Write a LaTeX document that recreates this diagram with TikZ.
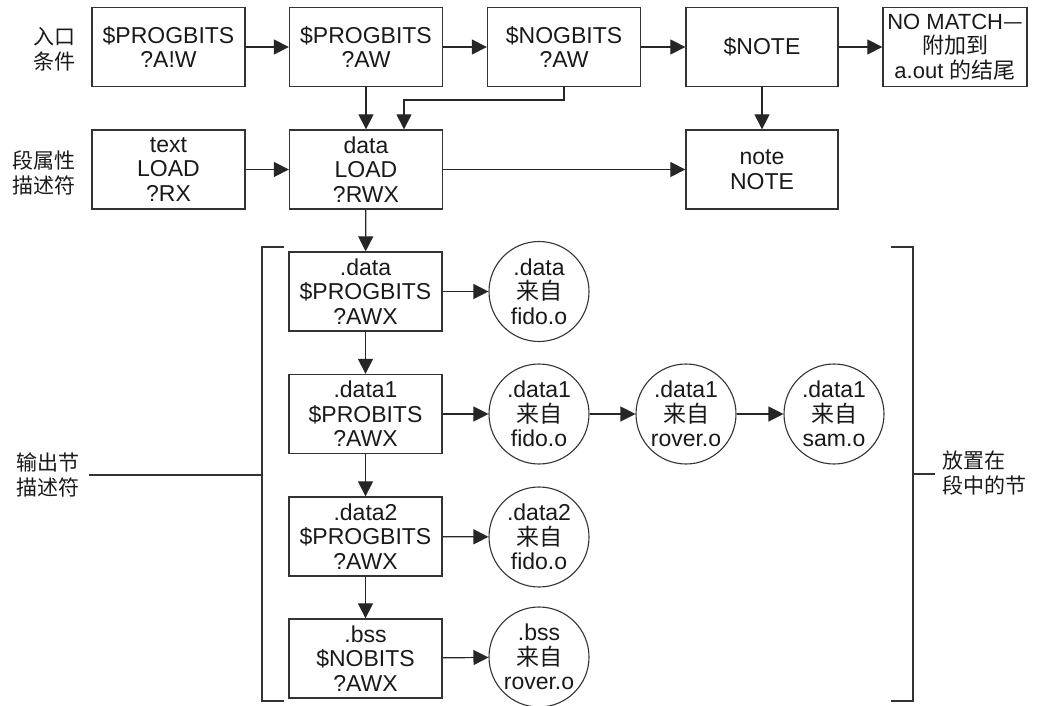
\documentclass[tikz,border=0pt]{standalone}
\usepackage{fontspec}
\setmainfont{Liberation Sans}
\newfontfamily\cjk{Noto Sans CJK SC}
\usetikzlibrary{arrows.meta}
\begin{document}
\begin{tikzpicture}[x=1pt,y=-1pt,
  every node/.style={font=\fontsize{23}{24.5}\selectfont, text=black!90},
  box/.style={draw=black!80, line width=1.3pt, minimum width=153pt, minimum height=79pt, inner sep=0pt, align=center},
  circ/.style={draw=black!80, line width=1.1pt, circle, minimum size=100pt, inner sep=0pt, align=center},
  arr/.style={line width=1.2pt, draw=black!85, -{Triangle[length=15pt,width=15pt]}},
  ln/.style={line width=1.2pt, draw=black!80},
  lbl/.style={inner sep=0pt, font=\cjk\fontsize{21}{25}\selectfont}]
\useasboundingbox (0,0) rectangle (1043,706);

% row 1
\node[box] (b1) at (168.5,47) {\$PROGBITS\\?A!W};
\node[box] (b2) at (366,47) {\$PROGBITS\\?AW};
\node[box] (b3) at (564,47) {\$NOGBITS\\?AW};
\node[box, minimum width=152pt] (b4) at (762,47) {\$NOTE};
\node[box, minimum width=144pt, font=\fontsize{22}{24.5}\selectfont] (b5) at (955,47) {NO MATCH{\cjk —}\\{\cjk 附加到}\\a.out {\cjk 的结尾}};

% row 2
\node[box] (t) at (168.5,169.5) {text\\LOAD\\?RX};
\node[box] (d) at (366,169.5) {data\\LOAD\\?RWX};
\node[box, minimum width=152pt] (n) at (762,169.5) {note\\NOTE};

% sections
\node[box] (s1) at (365.5,291.5) {.data\\\$PROGBITS\\?AWX};
\node[box] (s2) at (365.5,414) {.data1\\\$PROBITS\\?AWX};
\node[box] (s3) at (365.5,536.5) {.data2\\\$PROGBITS\\?AWX};
\node[box] (s4) at (365.5,658.5) {.bss\\\$NOBITS\\?AWX};

% circles
\node[circ] (c1) at (539,291.5) {.data\\{\cjk 来自}\\fido.o};
\node[circ] (c2) at (539,414) {.data1\\{\cjk 来自}\\fido.o};
\node[circ] (c3) at (686,414) {.data1\\{\cjk 来自}\\rover.o};
\node[circ] (c4) at (834,414) {.data1\\{\cjk 来自}\\sam.o};
\node[circ] (c5) at (539,537) {.data2\\{\cjk 来自}\\fido.o};
\node[circ] (c6) at (539,657) {.bss\\{\cjk 来自}\\rover.o};

% labels
\node[lbl, anchor=east, align=right] (l1) at (76,49.5) {入口\\条件};
\node[lbl, anchor=east, align=right] (l2) at (76,172.5) {段属性\\描述符};
\node[lbl, anchor=west, align=left] (l3) at (16,475) {输出节\\描述符};
\node[lbl, anchor=west, align=left] (l4) at (942,473) {放置在\\段中的节};

% arrows
\draw[arr] (b1) -- (b2);
\draw[arr] (b2) -- (b3);
\draw[arr] (b3) -- (b4);
\draw[arr] (b4) -- (b5);
\draw[arr] (b2) -- (d);
\coordinate (j) at (404,100);
\draw[arr] (b3.south) |- (j) -- (j |- d.north);
\draw[arr] (b4) -- (n);
\draw[arr] (t) -- (d);
\draw[arr] (d) -- (n);
\draw[arr] (d) -- (s1);
\draw[arr] (s1) -- (s2);
\draw[arr] (s2) -- (s3);
\draw[arr] (s3) -- (s4);
\draw[arr] (s1) -- (c1);
\draw[arr] (s2) -- (c2);
\draw[arr] (c2) -- (c3);
\draw[arr] (c3) -- (c4);
\draw[arr] (s3) -- (c5);
\draw[arr] (s4) -- (c6);

% brackets
\draw[ln] (284,247) -- (262,247) -- (262,701) -- (284,701);
\draw[ln] (l3.east |- 0,475) ++(10,0) -- (262,475);
\draw[ln] (891,247) -- (913,247) -- (913,701) -- (891,701);
\draw[ln] (913,474) -- (935,474);
\end{tikzpicture}
\end{document}
